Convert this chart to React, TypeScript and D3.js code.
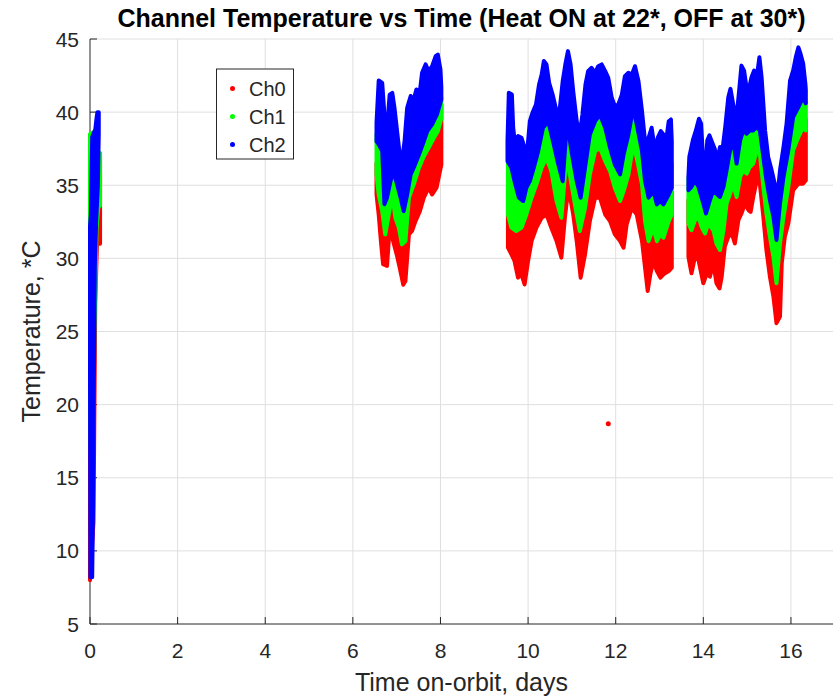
import React from 'react';
import * as d3 from 'd3';

type P = [number, number];

const title = 'Channel Temperature vs Time (Heat ON at 22*, OFF at 30*)';
const xLabel = 'Time on-orbit, days';
const yLabel = 'Temperature, *C';
const xTicks = [0, 2, 4, 6, 8, 10, 12, 14, 16];
const yTicks = [5, 10, 15, 20, 25, 30, 35, 40, 45];
const channelNames = ['Ch0', 'Ch1', 'Ch2'];
const channelColors = ['#ff0000', '#00ff00', '#0000ff'];

// Envelopes of each channel's scattered samples, per on-orbit data segment: [day, °C]
const ch2Upper: P[][] = [
  [[0, 32.2], [0.02, 33.0], [0.05, 38.3], [0.09, 38.6], [0.12, 38.8], [0.15, 39.6], [0.17, 40.0], [0.2, 40.0]],
  [[6.54, 39.27], [6.59, 42.16], [6.67, 42.0], [6.71, 40.3], [6.74, 38.25], [6.78, 38.93], [6.84, 41.2], [6.9, 41.32], [6.95, 40.3], [7.01, 38.7], [7.07, 37.1], [7.12, 36.65], [7.18, 38.0], [7.24, 40.3], [7.32, 41.1], [7.39, 40.87], [7.45, 41.55], [7.53, 41.43], [7.58, 42.69], [7.66, 43.26], [7.73, 42.8], [7.81, 43.14], [7.89, 43.83], [7.94, 43.94], [8.0, 42.9], [8.02, 41.7]],
  [[9.53, 38.0], [9.56, 41.32], [9.63, 41.2], [9.66, 38.93], [9.69, 38.13], [9.77, 38.36], [9.85, 38.25], [9.92, 37.56], [9.98, 37.33], [10.04, 39.38], [10.1, 39.95], [10.18, 40.52], [10.25, 41.89], [10.31, 42.57], [10.36, 43.49], [10.42, 43.26], [10.48, 42.0], [10.56, 41.2], [10.63, 40.3], [10.71, 39.84], [10.79, 42.12], [10.85, 43.26], [10.91, 44.17], [10.97, 43.26], [11.03, 41.43], [11.11, 39.38], [11.18, 38.47], [11.24, 39.84], [11.31, 41.89], [11.37, 42.8], [11.45, 43.03], [11.53, 42.69], [11.6, 43.14], [11.68, 43.26], [11.76, 42.8], [11.83, 42.35], [11.91, 40.98], [11.98, 40.41], [12.06, 40.52], [12.14, 41.2], [12.21, 42.46], [12.29, 42.69], [12.37, 42.57], [12.44, 43.14], [12.52, 42.12], [12.6, 40.07], [12.67, 38.0], [12.75, 38.25], [12.82, 38.93], [12.9, 37.33], [12.96, 38.25], [13.03, 38.7], [13.09, 38.47], [13.15, 38.0], [13.21, 39.38], [13.26, 39.5], [13.28, 38.0]],
  [[13.66, 35.57], [13.68, 36.93], [13.76, 38.07], [13.83, 38.75], [13.9, 39.55], [13.95, 39.2], [14.0, 36.48], [14.05, 36.02], [14.09, 38.07], [14.14, 38.41], [14.2, 37.95], [14.26, 37.5], [14.32, 36.7], [14.38, 37.61], [14.44, 37.5], [14.5, 38.98], [14.57, 41.02], [14.62, 41.59], [14.68, 40.57], [14.75, 39.43], [14.81, 41.25], [14.87, 43.18], [14.93, 42.84], [14.99, 41.59], [15.05, 41.7], [15.1, 42.39], [15.16, 42.84], [15.22, 42.39], [15.28, 43.75], [15.33, 42.39], [15.41, 38.75], [15.48, 36.93], [15.56, 36.02], [15.63, 35.11], [15.69, 34.2], [15.75, 36.02], [15.83, 37.61], [15.9, 39.2], [15.98, 42.16], [16.05, 42.84], [16.11, 43.75], [16.17, 44.43], [16.22, 43.98], [16.28, 43.3], [16.33, 41.93], [16.34, 41.5]],
];
const ch2Lower: P[][] = [
  [[0, 22.0], [0.01, 8.2], [0.05, 8.2], [0.07, 13.0], [0.09, 22.0], [0.11, 29.4], [0.14, 32.5], [0.18, 35.0], [0.2, 38.5]],
  [[6.54, 38.0], [6.59, 37.8], [6.67, 37.33], [6.72, 33.7], [6.78, 34.15], [6.86, 35.28], [6.93, 35.97], [7.01, 35.06], [7.09, 34.15], [7.16, 33.23], [7.24, 34.37], [7.32, 35.74], [7.39, 36.2], [7.51, 37.1], [7.62, 38.0], [7.7, 38.7], [7.81, 39.16], [7.92, 39.84], [8.02, 40.87]],
  [[9.53, 36.65], [9.62, 36.2], [9.69, 35.28], [9.79, 34.15], [9.89, 33.92], [9.96, 34.83], [10.04, 35.28], [10.13, 36.2], [10.23, 37.33], [10.34, 38.93], [10.46, 39.38], [10.57, 38.0], [10.69, 36.42], [10.79, 35.28], [10.89, 39.38], [10.99, 37.33], [11.11, 35.28], [11.2, 34.15], [11.3, 36.2], [11.41, 38.47], [11.53, 39.38], [11.64, 39.84], [11.76, 38.93], [11.87, 37.56], [11.98, 36.42], [12.1, 35.74], [12.18, 37.1], [12.29, 38.47], [12.4, 40.3], [12.48, 39.16], [12.6, 37.33], [12.67, 35.28], [12.75, 34.15], [12.86, 34.6], [12.94, 33.69], [13.02, 33.92], [13.09, 33.69], [13.21, 34.37], [13.28, 34.83]],
  [[13.66, 34.66], [13.73, 34.89], [13.81, 35.34], [13.89, 34.89], [14.0, 33.75], [14.06, 33.07], [14.15, 33.98], [14.23, 34.66], [14.3, 34.43], [14.38, 34.2], [14.46, 34.89], [14.53, 36.02], [14.61, 37.39], [14.68, 38.07], [14.76, 36.48], [14.84, 38.07], [14.91, 38.75], [14.99, 38.52], [15.06, 38.75], [15.14, 38.75], [15.22, 38.98], [15.29, 38.75], [15.37, 36.93], [15.44, 35.34], [15.52, 33.98], [15.6, 32.84], [15.67, 31.25], [15.75, 33.75], [15.83, 35.57], [15.94, 37.39], [16.05, 39.66], [16.17, 40.34], [16.28, 41.02], [16.34, 40.6]],
];
const ch1Upper: P[][] = [
  [[0, 38.5], [0.05, 38.6], [0.09, 38.0], [0.13, 37.0], [0.19, 37.0], [0.23, 37.2]],
  [[6.54, 38.5], [6.6, 38.3], [6.67, 38.5], [6.72, 36.0], [6.9, 37.5], [7.16, 35.5], [7.4, 38.0], [7.7, 40.0], [8.02, 41.0]],
  [[9.54, 38.5], [9.75, 36.5], [9.95, 36.0], [10.15, 38.0], [10.35, 41.0], [10.55, 39.5], [10.72, 38.0], [10.9, 41.5], [11.1, 37.5], [11.2, 36.5], [11.4, 40.5], [11.65, 41.5], [11.9, 39.5], [12.1, 38.0], [12.3, 40.5], [12.45, 41.5], [12.65, 37.0], [12.85, 36.5], [13.05, 36.0], [13.28, 36.5]],
  [[13.66, 35.5], [13.9, 37.0], [14.05, 34.5], [14.2, 36.0], [14.38, 35.5], [14.6, 39.0], [14.75, 37.5], [14.9, 40.5], [15.25, 40.5], [15.45, 36.0], [15.67, 32.5], [15.83, 36.5], [16.05, 41.0], [16.34, 40.7]],
];
const ch1Lower: P[][] = [
  [[0, 20.0], [0.05, 12.0], [0.1, 25.0], [0.15, 32.0], [0.19, 33.5], [0.23, 33.6]],
  [[6.54, 35.74], [6.59, 34.37], [6.67, 33.23], [6.74, 31.64], [6.82, 33.0], [6.9, 34.37], [6.97, 32.78], [7.05, 32.1], [7.12, 30.96], [7.2, 31.18], [7.28, 34.15], [7.39, 35.06], [7.51, 36.2], [7.62, 36.99], [7.73, 37.56], [7.85, 38.25], [7.94, 38.7], [8.02, 39.6]],
  [[9.54, 33.0], [9.62, 32.1], [9.73, 31.87], [9.85, 32.1], [9.96, 33.0], [10.08, 34.15], [10.19, 35.06], [10.31, 36.2], [10.42, 36.88], [10.53, 35.97], [10.65, 33.92], [10.76, 32.78], [10.88, 37.1], [10.99, 35.06], [11.11, 33.0], [11.18, 31.87], [11.3, 33.46], [11.41, 35.74], [11.53, 37.33], [11.64, 37.56], [11.76, 36.65], [11.87, 35.97], [11.98, 34.83], [12.1, 33.92], [12.18, 34.6], [12.29, 35.74], [12.4, 37.79], [12.48, 36.88], [12.6, 35.06], [12.67, 32.55], [12.75, 31.18], [12.86, 32.1], [12.94, 31.18], [13.02, 31.64], [13.09, 31.41], [13.21, 32.55], [13.28, 33.0]],
  [[13.66, 32.39], [13.73, 31.93], [13.81, 32.61], [13.89, 32.84], [13.96, 32.16], [14.04, 31.7], [14.11, 32.39], [14.23, 31.93], [14.3, 31.02], [14.38, 30.57], [14.46, 31.93], [14.53, 33.75], [14.61, 34.43], [14.68, 35.11], [14.76, 34.2], [14.84, 35.57], [14.91, 36.02], [14.99, 35.8], [15.06, 36.25], [15.14, 36.48], [15.22, 37.39], [15.29, 37.16], [15.37, 34.89], [15.44, 33.07], [15.52, 31.48], [15.6, 30.11], [15.67, 28.3], [15.75, 31.02], [15.83, 32.84], [15.94, 34.89], [16.05, 37.39], [16.17, 38.3], [16.28, 38.98], [16.34, 38.75]],
];
const ch0Upper: P[][] = [
  [[0, 27.5], [0.1, 30.0], [0.16, 36.7], [0.23, 36.7]],
  [[6.54, 36.5], [6.74, 33.5], [6.9, 36.0], [7.12, 33.0], [7.28, 35.5], [7.5, 37.5], [7.8, 39.5], [8.02, 40.5]],
  [[9.54, 35.0], [9.75, 33.5], [9.95, 34.5], [10.15, 36.0], [10.4, 38.5], [10.6, 36.0], [10.76, 34.5], [10.9, 38.5], [11.1, 35.0], [11.2, 33.5], [11.45, 37.5], [11.65, 39.0], [11.9, 37.5], [12.1, 35.5], [12.4, 39.0], [12.65, 34.5], [12.75, 33.0], [12.95, 33.0], [13.28, 34.5]],
  [[13.66, 34.0], [13.9, 34.5], [14.05, 33.0], [14.2, 33.5], [14.38, 32.5], [14.6, 36.0], [14.75, 35.5], [14.9, 37.5], [15.22, 38.5], [15.45, 34.5], [15.67, 30.0], [15.83, 34.0], [16.05, 38.5], [16.34, 39.5]],
];
const ch0Lower: P[][] = [
  [[0, 8.0], [0.08, 12.0], [0.12, 27.0], [0.16, 31.0], [0.23, 31.0]],
  [[6.54, 34.37], [6.59, 33.0], [6.64, 31.18], [6.69, 29.6], [6.78, 29.48], [6.84, 32.1], [6.92, 31.18], [7.0, 30.27], [7.07, 29.36], [7.15, 28.2], [7.2, 28.45], [7.28, 31.64], [7.35, 31.87], [7.43, 32.55], [7.53, 33.23], [7.62, 34.15], [7.73, 34.83], [7.81, 34.37], [7.91, 34.83], [8.02, 36.42]],
  [[9.54, 30.73], [9.62, 30.27], [9.69, 29.82], [9.77, 28.68], [9.85, 28.91], [9.92, 28.22], [10.0, 29.82], [10.08, 31.18], [10.19, 32.1], [10.31, 32.78], [10.42, 33.0], [10.53, 32.1], [10.65, 31.18], [10.76, 30.05], [10.84, 32.78], [10.92, 34.83], [11.03, 33.0], [11.11, 31.18], [11.2, 28.68], [11.3, 30.27], [11.41, 32.55], [11.53, 34.15], [11.64, 34.15], [11.76, 33.0], [11.87, 32.55], [11.98, 31.64], [12.1, 31.18], [12.18, 30.73], [12.25, 32.32], [12.37, 33.46], [12.48, 33.0], [12.6, 31.18], [12.67, 29.36], [12.73, 27.77], [12.79, 28.91], [12.86, 29.82], [12.94, 29.13], [13.02, 28.68], [13.09, 28.91], [13.21, 29.13], [13.28, 29.36]],
  [[13.66, 30.11], [13.73, 28.98], [13.81, 30.11], [13.89, 29.89], [14.0, 28.3], [14.08, 28.98], [14.15, 28.75], [14.23, 29.66], [14.3, 28.3], [14.37, 27.95], [14.42, 28.75], [14.49, 30.8], [14.57, 31.48], [14.65, 31.7], [14.72, 31.02], [14.8, 32.61], [14.87, 33.07], [14.95, 33.75], [15.03, 33.3], [15.08, 33.18], [15.14, 34.2], [15.22, 35.34], [15.29, 35.11], [15.37, 32.84], [15.44, 30.57], [15.52, 28.75], [15.6, 27.39], [15.67, 25.57], [15.75, 26.02], [15.79, 29.66], [15.86, 31.48], [15.94, 32.39], [16.05, 34.66], [16.17, 35.11], [16.28, 35.11], [16.34, 35.34]],
];
const ch0Isolated: P[] = [[11.83, 18.7]];

const FONT = '"Liberation Sans", Arial, Helvetica, sans-serif';
const AXIS = '#262626';

export default function App() {
  const W = 837;
  const H = 697;
  const x = d3.scaleLinear().domain([0, 16.96]).range([90, 833]);
  const y = d3.scaleLinear().domain([5, 45]).range([624, 39]);
  const line = d3.line<P>().x((d) => x(d[0])).y((d) => y(d[1]));
  const band = (up: P[], lo: P[]) => (line([...up, ...lo.slice().reverse()]) || '') + 'Z';

  const channels = [
    { up: ch0Upper, lo: ch0Lower, color: channelColors[0] },
    { up: ch1Upper, lo: ch1Lower, color: channelColors[1] },
    { up: ch2Upper, lo: ch2Lower, color: channelColors[2] },
  ];

  const [x0, x1] = x.range();
  const [yb, yt] = y.range();

  return (
    <svg
      width={W}
      height={H}
      viewBox={`0 0 ${W} ${H}`}
      style={{ position: 'absolute', left: 0, top: 0, background: '#fff', display: 'block' }}
      fontFamily={FONT}
    >
      <rect x={0} y={0} width={W} height={H} fill="#fff" />
      {/* grid */}
      <g stroke="#dfdfdf" strokeWidth={1}>
        {xTicks.filter((t) => t > 0).map((t) => (
          <line key={'gx' + t} x1={x(t)} x2={x(t)} y1={yb} y2={yt} />
        ))}
        {yTicks.filter((t) => t > 5).map((t) => (
          <line key={'gy' + t} x1={x0} x2={x1} y1={y(t)} y2={y(t)} />
        ))}
      </g>
      {/* axes */}
      <g stroke={AXIS} strokeWidth={1}>
        <line x1={x0} x2={x1} y1={yb} y2={yb} />
        <line x1={x0} x2={x0} y1={yb} y2={yt} />
        {xTicks.map((t) => (
          <line key={'tx' + t} x1={x(t)} x2={x(t)} y1={yb} y2={yb - 7} />
        ))}
        {yTicks.map((t) => (
          <line key={'ty' + t} x1={x0} x2={x0 + 7} y1={y(t)} y2={y(t)} />
        ))}
      </g>
      {/* data */}
      {channels.map((c, ci) => (
        <g key={'ch' + ci} fill={c.color} stroke={c.color} strokeWidth={4} strokeLinejoin="round">
          {c.up.map((seg, si) => (
            <path key={si} d={band(seg, c.lo[si])} />
          ))}
        </g>
      ))}
      {ch0Isolated.map((d, i) => (
        <circle key={'iso' + i} cx={x(d[0])} cy={y(d[1])} r={2.5} fill={channelColors[0]} />
      ))}
      {/* tick labels */}
      <g fill={AXIS} fontSize={21}>
        {xTicks.map((t) => (
          <text key={'lx' + t} x={x(t)} y={658} textAnchor="middle">
            {t}
          </text>
        ))}
        {yTicks.map((t) => (
          <text key={'ly' + t} x={79} y={y(t) + 7.5} textAnchor="end">
            {t}
          </text>
        ))}
      </g>
      {/* axis labels */}
      <text x={(x0 + x1) / 2} y={691} textAnchor="middle" fontSize={25} fill={AXIS}>
        {xLabel}
      </text>
      <text
        transform={`translate(40, ${(yb + yt) / 2}) rotate(-90)`}
        textAnchor="middle"
        fontSize={25}
        fill={AXIS}
      >
        {yLabel}
      </text>
      {/* title */}
      <text x={(x0 + x1) / 2} y={27} textAnchor="middle" fontSize={25} fontWeight="bold" fill="#000">
        {title}
      </text>
      {/* legend */}
      <g>
        <rect x={216.5} y={69} width={77} height={90} fill="#fff" stroke={AXIS} strokeWidth={1} />
        {channelNames.map((n, i) => (
          <g key={n}>
            <circle cx={232.5} cy={88.5 + i * 28} r={2.5} fill={channelColors[i]} />
            <text x={249} y={88.5 + i * 28 + 7} fontSize={20} fill={AXIS}>
              {n}
            </text>
          </g>
        ))}
      </g>
    </svg>
  );
}
